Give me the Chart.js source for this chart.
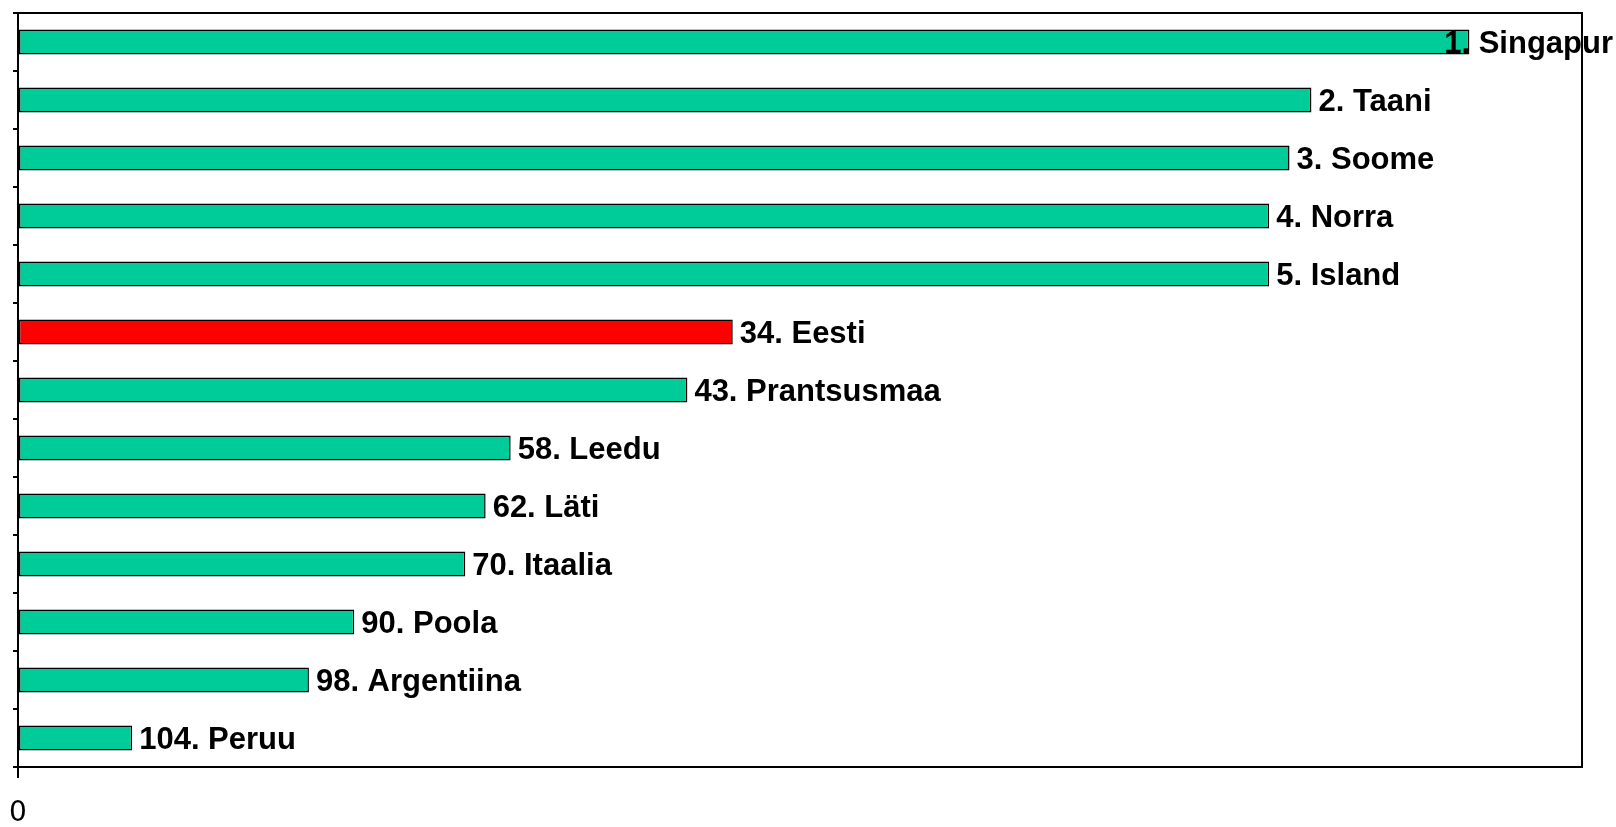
<!DOCTYPE html>
<html lang="et">
  <head>
    <meta charset="UTF-8" />
    <title>Riikide edetabel</title>
    <style>
      html, body { margin: 0; padding: 0; background: #fff; }
      canvas { display: block; }
    </style>
  </head>
  <body>
    <canvas id="chartJSContainer" width="1616" height="827"></canvas>

    <script src="https://cdn.jsdelivr.net/npm/chart.js@4/dist/chart.umd.min.js"></script>
    <script>
      // data
      const ranks = [1, 2, 3, 4, 5, 34, 43, 58, 62, 70, 90, 98, 104];
      const countries = ['Singapur', 'Taani', 'Soome', 'Norra', 'Island', 'Eesti', 'Prantsusmaa',
                         'Leedu', 'Läti', 'Itaalia', 'Poola', 'Argentiina', 'Peruu'];
      const scores = [9.28, 8.27, 8.13, 8.00, 8.00, 4.57, 4.28, 3.15, 2.99, 2.86, 2.15, 1.86, 0.73];
      const highlight = 'Eesti';
      const xTicks = [0];

      const labels = countries.map((c, i) => `${ranks[i]}. ${c}`);

      const green = '#00CC99';
      const red = '#FF0000';
      const labelSize = 31;

      // labels after the bar end, kept inside the canvas
      const barLabels = {
        id: 'barLabels',
        afterDatasetsDraw(chart) {
          const { ctx } = chart;
          const meta = chart.getDatasetMeta(0);
          ctx.save();
          ctx.font = `bold ${labelSize}px "Liberation Sans", Arial, sans-serif`;
          ctx.fillStyle = '#000';
          ctx.textAlign = 'left';
          ctx.textBaseline = 'alphabetic';
          meta.data.forEach((bar, i) => {
            const txt = labels[i];
            const w = ctx.measureText(txt).width;
            let x = bar.x + 7;
            if (x + w > chart.width - 3) x = chart.width - 3 - w;
            ctx.fillText(txt, x, bar.y + labelSize * 0.358);
          });
          ctx.restore();
        }
      };

      // box round the plot area
      const plotBorder = {
        id: 'plotBorder',
        afterDraw(chart) {
          const { ctx, chartArea: a } = chart;
          ctx.save();
          ctx.strokeStyle = '#000';
          ctx.lineWidth = 2;
          ctx.strokeRect(a.left, a.top, a.right - a.left, a.bottom - a.top);
          ctx.restore();
        }
      };

      const data = {
        labels,
        datasets: [{
          data: scores,
          backgroundColor: countries.map(c => c === highlight ? red : green),
          borderColor: '#000',
          borderWidth: 1.5,
          borderSkipped: false,
          categoryPercentage: 1,
          barPercentage: 0.43
        }]
      };

      const options = {
        indexAxis: 'y',
        responsive: false,
        animation: false,
        layout: { padding: { left: 13, right: 34, top: 13, bottom: 0 } },
        plugins: {
          legend: { display: false },
          tooltip: { enabled: false }
        },
        scales: {
          x: {
            min: 0,
            max: 10,
            afterBuildTicks: (axis) => { axis.ticks = xTicks.map(v => ({ value: v })); },
            afterFit: (axis) => { axis.height = 60; axis.paddingLeft = 0; axis.paddingRight = 0; },
            grid: { drawOnChartArea: false, color: '#000', lineWidth: 2, tickLength: 11 },
            border: { color: '#000', width: 2 },
            ticks: {
              padding: 22,
              color: '#000',
              font: { family: '"DejaVu Sans", sans-serif', size: 28, lineHeight: 1 }
            }
          },
          y: {
            grid: { drawOnChartArea: false, color: '#000', lineWidth: 2, tickLength: 5, offset: true },
            border: { color: '#000', width: 2 },
            ticks: { display: false }
          }
        }
      };

      new Chart(document.getElementById('chartJSContainer').getContext('2d'), {
        type: 'bar',
        data,
        options,
        plugins: [barLabels, plotBorder]
      });
    </script>
  </body>
</html>
